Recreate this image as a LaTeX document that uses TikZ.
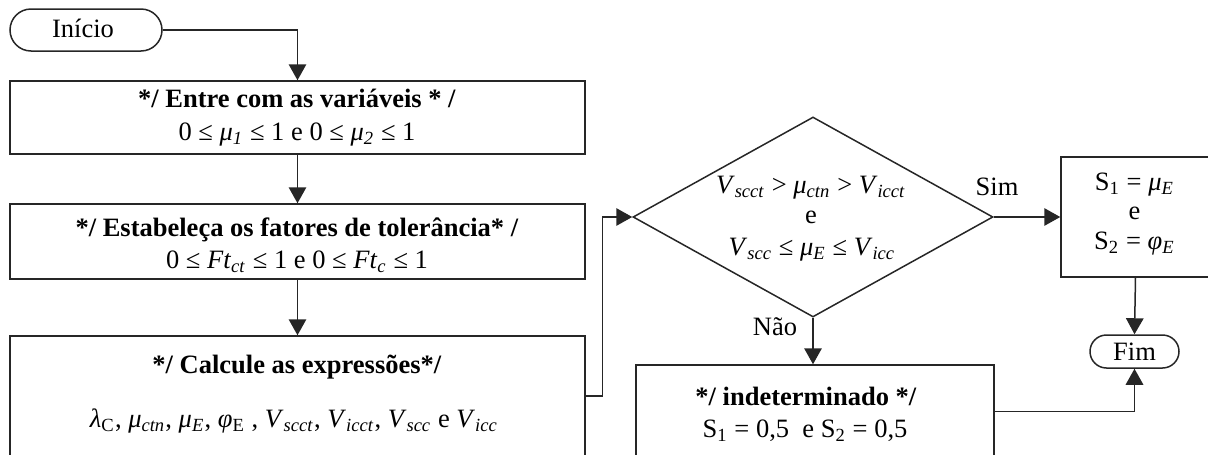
\documentclass[tikz,border=0pt]{standalone}
\usepackage{fontspec}
\setmainfont{Liberation Serif}
\usetikzlibrary{arrows.meta,shapes.geometric,shapes.misc}
\newcommand{\lsub}[1]{\textsubscript{#1}}
\begin{document}
\begin{tikzpicture}[
  x=0.4pt, y=-0.4pt,
  every node/.style={font=\fontsize{10.6pt}{12.5pt}\selectfont},
  line/.style={draw=black!85, line width=0.6pt},
  arr/.style={line, -{Triangle[length=6.4pt,width=7pt]}},
  procbox/.style={line, rectangle, inner sep=0pt},
  terminal/.style={line, rounded rectangle, rounded rectangle arc length=180, inner sep=0pt},
  decision/.style={line, diamond, inner sep=0pt},
  txt/.style={anchor=base, inner sep=0pt}
]
\useasboundingbox (0,0) rectangle (1208,454);

% start / end terminals
\node[terminal, minimum width=60.8pt, minimum height=16.8pt] (ini) at (86,30) {};
\node[txt] (tini) at (83,37) {Início};
\node[terminal, minimum width=35.6pt, minimum height=13.2pt] (fim) at (1134.5,351.5) {};
\node[txt] (tfim) at (1134.5,360) {Fim};

% left column of process boxes
\node[procbox, minimum width=230pt, minimum height=29.2pt] (b1) at (297.5,117.5) {};
\node[txt] (b1a) at (297,107) {\textbf{*/ Entre com as variáveis * /}};
\node[txt] (b1b) at (297,140) {0 ≤ \textit{μ}\lsub{\textit{1}} ≤ 1 e 0 ≤ \textit{μ}\lsub{\textit{2}} ≤ 1};

\node[procbox, minimum width=230pt, minimum height=30pt] (b2) at (297.5,241.5) {};
\node[txt] (b2a) at (297,236) {\textbf{*/ Estabeleça os fatores de tolerância* /}};
\node[txt] (b2b) at (297,268) {0 ≤ \textit{Ft}\lsub{\textit{ct}} ≤ 1 e 0 ≤ \textit{Ft}\lsub{\textit{c}} ≤ 1};

\node[procbox, minimum width=230pt, minimum height=48pt] (b3) at (297.5,396) {};
\node[txt] (b3a) at (297,373) {\textbf{*/ Calcule as expressões*/}};
\node[txt] (b3b) at (294,427) {\textit{λ}\lsub{C}, \textit{μ}\lsub{\textit{ctn}}, \textit{μ}\lsub{\textit{E}}, \textit{φ}\lsub{E} , \textit{V}\lsub{\textit{scct}}, \textit{V}\lsub{\textit{icct}}, \textit{V}\lsub{\textit{scc}} e \textit{V}\lsub{\textit{icc}}};

% decision
\node[decision, minimum width=144pt, minimum height=80pt] (dia) at (813,217) {};
\node[txt] (d1) at (811,193) {\textit{V}\lsub{\textit{scct}} > \textit{μ}\lsub{\textit{ctn}} > \textit{V}\lsub{\textit{icct}}};
\node[txt] (d2) at (811,223) {e};
\node[txt] (d3) at (812,255) {\textit{V}\lsub{\textit{scc}} ≤ \textit{μ}\lsub{\textit{E}} ≤ \textit{V}\lsub{\textit{icc}}};

% outcomes
\node[procbox, minimum width=59.6pt, minimum height=48pt] (sbox) at (1135.5,217) {};
\node[txt] (s1) at (1134.5,190) {S\lsub{1} = \textit{μ}\lsub{\textit{E}}};
\node[txt] (s2) at (1134.5,219) {e};
\node[txt] (s3) at (1134.5,249) {S\lsub{2} = \textit{φ}\lsub{\textit{E}}};

\node[procbox, minimum width=143.2pt, minimum height=37.2pt] (ind) at (815,411.5) {};
\node[txt] (i1) at (806,405) {\textbf{*/ indeterminado */}};
\node[txt] (i2) at (805,437) {S\lsub{1} = 0,5 \ e S\lsub{2} = 0,5};

% branch labels
\node[txt] (lsim) at (997,195) {Sim};
\node[txt] (lnao) at (775,335) {Não};

% connectors
\draw[arr] (ini.east) -| (b1.north);
\draw[arr] (b1.south) -- (b2.north);
\draw[arr] (b2.south) -- (b3.north);
\draw[arr] (b3.east) -- ++(16.7,0) |- (dia.west);
\draw[arr] (dia.east) -- (sbox.west);
\draw[arr] (dia.south) -- (dia.south |- ind.north);
\draw[arr] (sbox.south) -- (fim.north);
\draw[arr] (ind.east) -| (fim.south);
\end{tikzpicture}
\end{document}
